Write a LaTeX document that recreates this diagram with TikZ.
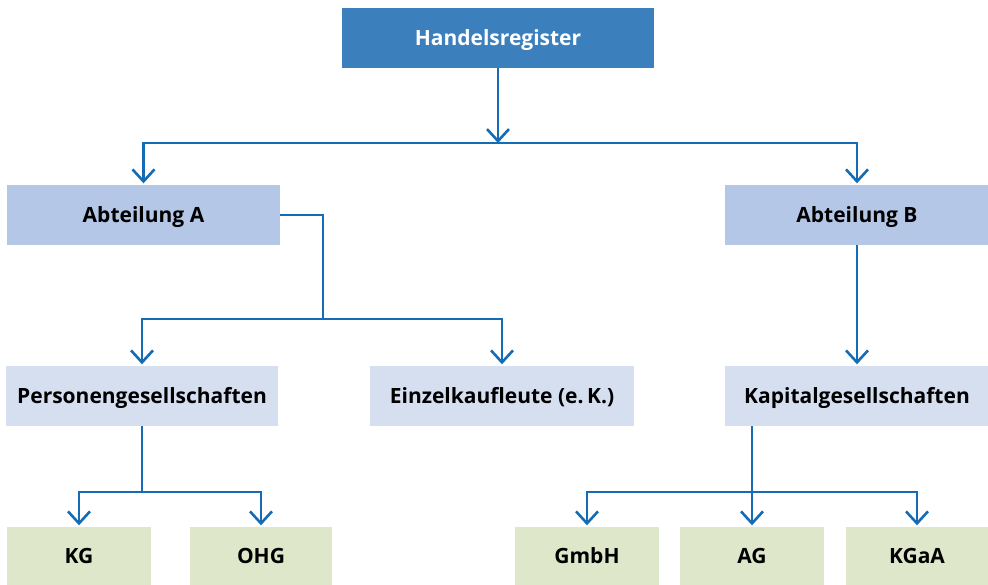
\documentclass[tikz,border=0pt]{standalone}
\usepackage{fontspec}
\setmainfont{Open Sans}
\usetikzlibrary{arrows.meta}
\definecolor{HeadBlue}{RGB}{59,127,189}
\definecolor{DeptBlue}{RGB}{180,199,231}
\definecolor{FormBlue}{RGB}{214,223,240}
\definecolor{FormGreen}{RGB}{223,231,202}
\definecolor{LineBlue}{RGB}{22,108,180}
\tikzset{
  base/.style={inner sep=0pt,minimum height=60pt,text height=15pt,text depth=0pt,font=\bfseries\fontsize{21}{24}\selectfont},
  headbox/.style={base,fill=HeadBlue,text=white},
  deptbox/.style={base,fill=DeptBlue},
  formbox/.style={base,fill=FormBlue},
  kindbox/.style={base,fill=FormGreen,minimum height=58pt},
  link/.style={line width=2.6pt,draw=LineBlue},
  arrow/.style={link,-{Straight Barb[length=12pt,width=22pt,line width=2.6pt]},shorten >=1.5pt},
}
\begin{document}
\begin{tikzpicture}[x=1pt,y=-1pt]
    \useasboundingbox (0,0) rectangle (988,585);
    \node[headbox,minimum width=312pt] (reg) at (498,38) {Handelsregister};
    \node[deptbox,minimum width=273pt] (abtA) at (143.5,215) {Abteilung A};
    \node[deptbox,minimum width=264pt] (abtB) at (857,215) {Abteilung B};
    \node[formbox,minimum width=272pt] (pers) at (142,396) {Personengesellschaften};
    \node[formbox,minimum width=264pt] (einz) at (502,396) {Einzelkaufleute (e.\,K.)};
    \node[formbox,minimum width=265pt] (kap) at (857,396) {Kapitalgesellschaften};
    \node[kindbox,minimum width=144pt] (kg) at (79,556) {KG};
    \node[kindbox,minimum width=142pt] (ohg) at (261,556) {OHG};
    \node[kindbox,minimum width=144pt] (gmbh) at (587,556) {GmbH};
    \node[kindbox,minimum width=144pt] (ag) at (752,556) {AG};
    \node[kindbox,minimum width=142pt] (kgaa) at (917,556) {KGaA};
    \coordinate (busReg) at (498,143);
    \coordinate (busA) at (323,319);
    \coordinate (busPers) at (142,492);
    \coordinate (busKap) at (752,492);
    \draw[link,-{Straight Barb[length=12pt,width=22pt,line width=2.6pt]}] (reg) -- (busReg);
    \draw[arrow] (busReg) -| (abtA); \draw[arrow] (busReg) -| (abtB);
    \draw[link] (abtA.east) -| (busA);
    \draw[arrow] (busA) -| (pers); \draw[arrow] (busA) -| (einz);
    \draw[arrow] (abtB) -- (kap);
    \draw[link] (pers) -- (busPers);
    \draw[arrow] (busPers) -| (kg); \draw[arrow] (busPers) -| (ohg);
    \draw[link] (kap.south -| busKap) -- (busKap);
    \draw[arrow] (busKap) -| (gmbh); \draw[arrow] (busKap) -- (ag); \draw[arrow] (busKap) -| (kgaa);
  \end{tikzpicture}
\end{document}
